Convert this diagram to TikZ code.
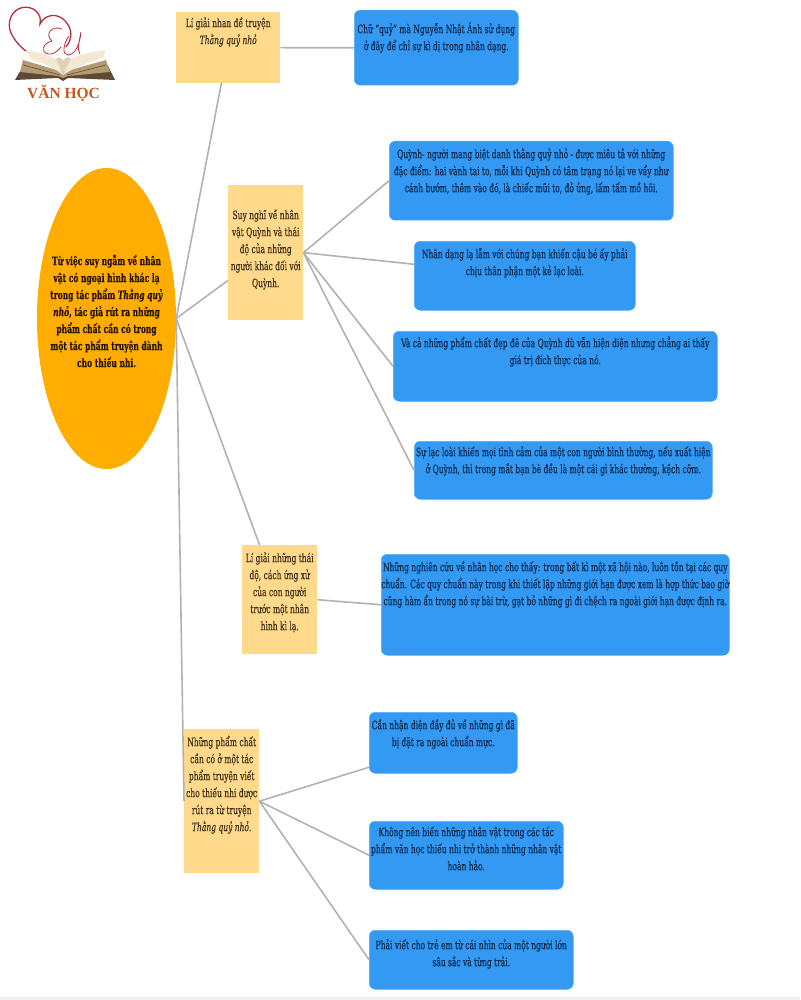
\documentclass[tikz,border=0pt]{standalone}
\usepackage{fontspec}
\setmainfont[FakeStretch=0.655, FakeBold=0.3]{DejaVu Serif}
\newfontfamily\logofont{Liberation Serif}
\usepackage{tikz}
\usetikzlibrary{shapes.geometric, backgrounds}
\definecolor{rootOrange}{HTML}{FFAD00}
\definecolor{noteYellow}{HTML}{FFD98C}
\definecolor{leafBlue}{HTML}{3399F2}
\definecolor{linkGray}{HTML}{B2B2B2}
\definecolor{noteInk}{HTML}{3F3118}
\definecolor{leafInk}{HTML}{0C2A50}
\definecolor{heartRed}{HTML}{B5303C}
\definecolor{logoBrown}{HTML}{C4571F}
\definecolor{bookDark}{HTML}{5E4A34}
\definecolor{bookTan}{HTML}{B49A74}
\definecolor{bookPage}{HTML}{F3E9D2}
% width, height, space on top, text
\newcommand{\boxtext}[4]{\parbox[c][#2pt][t]{#1pt}{\vspace*{#3pt}\centering\strut #4}}
\tikzset{
    link/.style={draw=linkGray, line width=1.6pt},
    notebox/.style={fill=noteYellow, anchor=north west, inner sep=0pt, text=noteInk},
    leafbox/.style={fill=leafBlue, draw=leafBlue!80!white, line width=0.5pt, rounded corners=6pt,
        anchor=north west, inner sep=0pt, text=leafInk}
}
\begin{document}
\begin{tikzpicture}[x=1pt, y=-1pt, font=\fontsize{11.5}{17}\selectfont]
    \useasboundingbox (0,0) rectangle (800,1000);
    \fill[black!6] (0,997) rectangle (800,1000);

    % logo
    \draw[heartRed, line width=1.3pt] (27,52) .. controls (12,40) and (6,28) .. (11,17)
        .. controls (15,7) and (28,4) .. (36,11) .. controls (40,15) and (41,19) .. (40,24)
        .. controls (45,14) and (58,12) .. (66,22) .. controls (72,29) and (73,38) .. (66,47);
    \draw[heartRed, line width=0.8pt] (62,29) .. controls (52,25) and (44,34) .. (52,41)
        .. controls (43,43) and (40,52) .. (48,54) .. controls (53,55) and (58,51) .. (61,47);
    \draw[heartRed, line width=0.8pt] (69,36) .. controls (63,44) and (62,55) .. (68,55)
        .. controls (75,55) and (80,44) .. (81,32) .. controls (79,42) and (77,50) .. (80,54);
    \fill[bookDark] (15,80) -- (22,68) -- (63,76) -- (108,66) -- (115,80) -- (68,78) -- (63,81) -- (58,78) -- cycle;
    \fill[bookTan] (20,72) -- (23,60) -- (63,72) -- (106,60) -- (110,72) -- (68,76) -- (63,78) -- (58,76) -- cycle;
    \draw[bookDark, line width=0.6pt] (23,65) -- (60,75) (106,65) -- (67,75);
    \fill[bookPage] (25,51) .. controls (38,52) and (48,54) .. (56,59) -- (63,75)
        .. controls (52,66) and (40,62) .. (33,60) -- cycle;
    \fill[bookPage] (105,50) .. controls (92,52) and (80,54) .. (71,59) -- (63,75)
        .. controls (76,66) and (92,62) .. (104,57) -- cycle;
    \fill[bookPage!70!bookTan] (56,59) .. controls (59,56) and (62,58) .. (63,61)
        .. controls (65,57) and (69,56) .. (71,59) -- (63,75) -- cycle;

    % main branches
    \node[draw=none, fill=rootOrange, ellipse, minimum width=139pt, minimum height=301pt, inner sep=0pt] (root) at (106.5,318.5) {};
    \node[font=\fontsize{11.5}{17}\selectfont\bfseries, text=black!85!orange, inner sep=0pt, align=center] (rootText) at (106.5,311)
        {Từ việc suy ngẫm về nhân\\vật có ngoại hình khác lạ\\trong tác phẩm \textit{Thằng quỷ}\\\textit{nhỏ}, tác giả rút ra những\\phẩm chất cần có trong\\một tác phẩm truyện dành\\cho thiếu nhi.};

    \node[notebox] (nhande) at (176,12) {\boxtext{104}{71}{3}{Lí giải nhan đề truyện\\\textit{Thằng quỷ nhỏ}}};
    \node[notebox] (suynghi) at (228,185) {\boxtext{75}{135}{22}{Suy nghĩ về nhân\\vật Quỳnh và thái\\độ của những\\người khác đối với\\Quỳnh.}};
    \node[notebox] (thaido) at (242,545) {\boxtext{75}{109}{5}{Lí giải những thái\\độ, cách ứng xử\\của con người\\trước một nhân\\hình kì lạ.}};
    \node[notebox] (phamchat) at (184,729) {\boxtext{75}{144}{5}{Những phẩm chất\\cần có ở một tác\\phẩm truyện viết\\cho thiếu nhi được\\rút ra từ truyện\\\textit{Thằng quỷ nhỏ}.}};

    % leaves
    \node[leafbox] (chuquy) at (354,10) {\boxtext{164}{75}{11}{Chữ “quỷ” mà Nguyễn Nhật Ánh sử dụng\\ở đây để chỉ sự kì dị trong nhân dạng.}};
    \node[leafbox] (quynh) at (389,141) {\boxtext{284}{79}{5}{Quỳnh- người mang biệt danh thằng quỷ nhỏ - được miêu tả với những\\đặc điểm: hai vành tai to, mỗi khi Quỳnh có tâm trạng nó lại ve vẩy như\\cánh bướm, thêm vào đó, là chiếc mũi to, đỏ ửng, lấm tấm mồ hôi.}};
    \node[leafbox] (nhandang) at (414,241) {\boxtext{221}{69}{5}{Nhân dạng lạ lẫm với chúng bạn khiến cậu bé ấy phải\\chịu thân phận một kẻ lạc loài.}};
    \node[leafbox] (dephe) at (393,331) {\boxtext{324}{70}{4}{Và cả những phẩm chất đẹp đẽ của Quỳnh dù vẫn hiện diện nhưng chẳng ai thấy\\giá trị đích thực của nó.}};
    \node[leafbox] (lacloai) at (414,441) {\boxtext{298}{58}{3}{Sự lạc loài khiến mọi tình cảm của một con người bình thường, nếu xuất hiện\\ở Quỳnh, thì trong mắt bạn bè đều là một cái gì khác thường, kệch cỡm.}};
    \node[leafbox] (nghiencuu) at (381,554) {\boxtext{348}{101}{5}{Những nghiên cứu về nhân học cho thấy: trong bất kì một xã hội nào, luôn tồn tại các quy\\chuẩn. Các quy chuẩn này trong khi thiết lập những giới hạn được xem là hợp thức bao giờ\\cũng hàm ẩn trong nó sự bài trừ, gạt bỏ những gì đi chệch ra ngoài giới hạn được định ra.}};
    \node[leafbox] (nhandien) at (369,712) {\boxtext{148}{61}{5}{Cần nhận diện đầy đủ về những gì đã\\bị đặt ra ngoài chuẩn mực.}};
    \node[leafbox] (khongnen) at (369,821) {\boxtext{194}{68}{3}{Không nên biến những nhân vật trong các tác\\phẩm văn học thiếu nhi trở thành những nhân vật\\hoàn hảo.}};
    \node[leafbox] (phaiviet) at (369,930) {\boxtext{204}{59}{7}{Phải viết cho trẻ em từ cái nhìn của một người lớn\\sâu sắc và từng trải.}};

    \node[font=\logofont\fontsize{15.5}{17}\selectfont\bfseries, text=logoBrown, inner sep=0pt] (vanhoc) at (63.5,93) {VĂN HỌC};

    % links run behind the boxes
    \begin{scope}[on background layer]
        \draw[link] (root.east) -- (nhande.center);
        \draw[link] (root.east) -- (suynghi.center);
        \draw[link] (root.east) -- (thaido.center);
        \draw[link] (nhande.east) -- (chuquy.west);
        \draw[link] (thaido.east) -- (nghiencuu.west);
    \end{scope}
    \draw[link] (root.east) -- (phamchat.west);
    \draw[link] (suynghi.east) -- (quynh.west);
    \draw[link] (suynghi.east) -- ([yshift=11.5pt]nhandang.west);
    \draw[link] (suynghi.east) -- (dephe.west);
    \draw[link] (suynghi.east) -- (lacloai.west);
    \draw[link] (phamchat.east) -- ([yshift=-24.5pt]nhandien.west);
    \draw[link] (phamchat.east) -- (khongnen.west);
    \draw[link] (phamchat.east) -- (phaiviet.west);
\end{tikzpicture}
\end{document}
